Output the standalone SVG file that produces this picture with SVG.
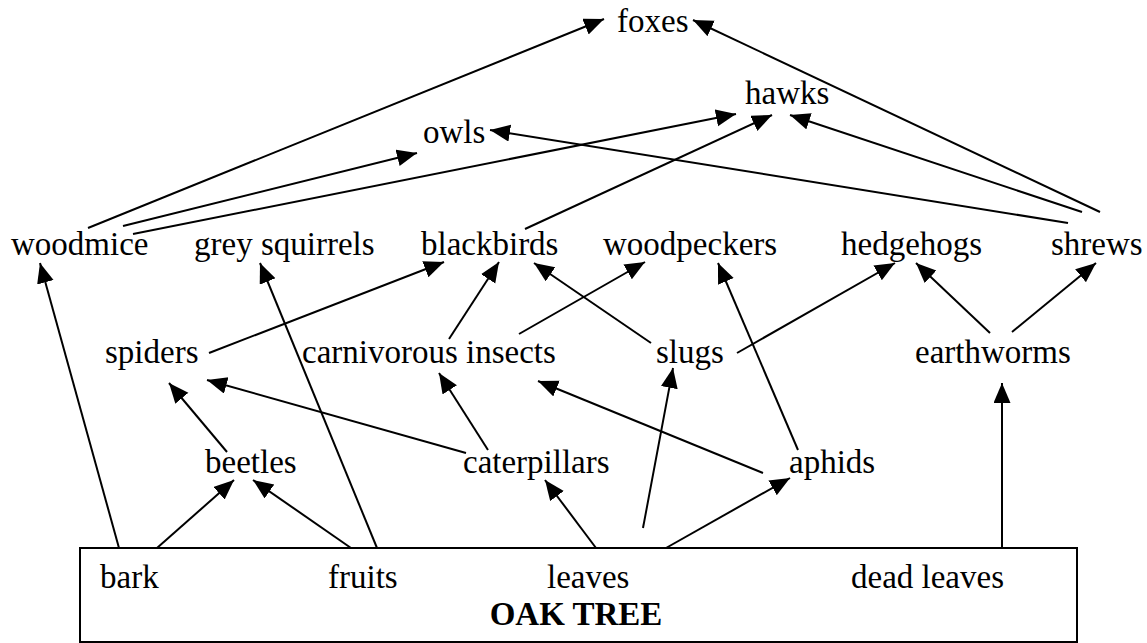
<svg xmlns="http://www.w3.org/2000/svg" width="1147" height="643" viewBox="0 0 1147 643">
<style>
text{font-family:"Liberation Serif","Times New Roman","DejaVu Serif",Times,serif;font-size:33px;fill:#000}
.b{font-weight:bold}
line{stroke:#000;stroke-width:2;marker-end:url(#ah)}
</style>
<defs>
<marker id="ah" markerUnits="userSpaceOnUse" markerWidth="22" markerHeight="18" refX="20" refY="8.5" orient="auto">
<path d="M0,0 L20,8.5 L0,17 z" fill="#000"/>
</marker>
</defs>
<rect width="1147" height="643" fill="#fff"/>
<g id="oak-tree">
<rect x="80" y="548" width="997" height="94" fill="none" stroke="#000" stroke-width="2"/>
<text x="100" y="588">bark</text>
<text x="328" y="588">fruits</text>
<text x="547" y="588">leaves</text>
<text x="851" y="588">dead leaves</text>
<text class="b" x="576" y="625" text-anchor="middle">OAK TREE</text>
</g>
<g id="foxes"><text x="617" y="32">foxes</text></g>
<g id="hawks"><text x="745" y="104">hawks</text></g>
<g id="owls"><text x="423" y="143">owls</text></g>
<g id="woodmice"><text x="11" y="255">woodmice</text></g>
<g id="grey-squirrels"><text x="194" y="255">grey squirrels</text></g>
<g id="blackbirds"><text x="421" y="255">blackbirds</text></g>
<g id="woodpeckers"><text x="603" y="255">woodpeckers</text></g>
<g id="hedgehogs"><text x="841" y="255">hedgehogs</text></g>
<g id="shrews"><text x="1051" y="255">shrews</text></g>
<g id="spiders"><text x="105" y="363">spiders</text></g>
<g id="carnivorous-insects"><text x="302" y="363">carnivorous insects</text></g>
<g id="slugs"><text x="656" y="363">slugs</text></g>
<g id="earthworms"><text x="915" y="363">earthworms</text></g>
<g id="beetles"><text x="205" y="473">beetles</text></g>
<g id="caterpillars"><text x="463" y="473">caterpillars</text></g>
<g id="aphids"><text x="789" y="473">aphids</text></g>
<g id="connectors">
<line x1="88" y1="228" x2="604" y2="19"/>
<line x1="123" y1="226" x2="417" y2="153"/>
<line x1="133" y1="234" x2="736" y2="114"/>
<line x1="525" y1="229" x2="772" y2="115"/>
<line x1="1082" y1="212" x2="790" y2="115"/>
<line x1="1100" y1="212" x2="693" y2="20"/>
<line x1="1068" y1="223" x2="490" y2="130"/>
<line x1="119" y1="548" x2="40" y2="263"/>
<line x1="377" y1="548" x2="260" y2="263"/>
<line x1="209" y1="353" x2="444" y2="262"/>
<line x1="449" y1="339" x2="499" y2="262"/>
<line x1="519" y1="334" x2="645" y2="262"/>
<line x1="651" y1="343" x2="534" y2="263"/>
<line x1="798" y1="450" x2="718" y2="263"/>
<line x1="737" y1="353" x2="895" y2="263"/>
<line x1="990" y1="333" x2="916" y2="263"/>
<line x1="1012" y1="332" x2="1096" y2="263"/>
<line x1="227" y1="452" x2="169" y2="383"/>
<line x1="466" y1="453" x2="207" y2="380"/>
<line x1="488" y1="450" x2="439" y2="373"/>
<line x1="763" y1="473" x2="538" y2="381"/>
<line x1="643" y1="528" x2="673" y2="368"/>
<line x1="157" y1="548" x2="234" y2="480"/>
<line x1="351" y1="548" x2="253" y2="480"/>
<line x1="596" y1="548" x2="545" y2="480"/>
<line x1="666" y1="548" x2="790" y2="478"/>
<line x1="1002" y1="548" x2="1002" y2="383"/>
</g>
</svg>
